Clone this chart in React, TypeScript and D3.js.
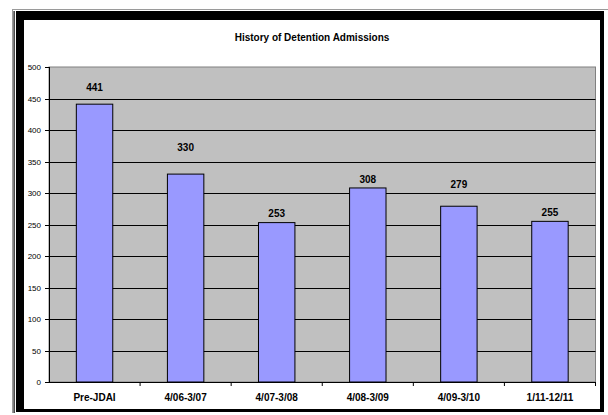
import React from "react";
import * as d3 from "d3";

// Detention admissions by reporting period
const periods = ["Pre-JDAI", "4/06-3/07", "4/07-3/08", "4/08-3/09", "4/09-3/10", "1/11-12/11"];
const admissions = [441, 330, 253, 308, 279, 255];
const yTicks = [0, 50, 100, 150, 200, 250, 300, 350, 400, 450, 500];

// How far each value label sits above its bar, in px
const labelLift = [16.5, 26.5, 9, 8, 22, 9];

const W = 608;
const H = 415;
const plot = { left: 49, right: 595.5, top: 67, bottom: 382 };
const font = "Liberation Sans, Arial, sans-serif";

export default function App() {
  const x = d3
    .scaleBand<string>()
    .domain(periods)
    .range([plot.left, plot.right])
    .paddingInner(0.6)
    .paddingOuter(0.3);
  const band = d3.scaleBand<string>().domain(periods).range([plot.left, plot.right]);
  const y = d3.scaleLinear().domain([0, 500]).range([plot.bottom, plot.top]);

  return (
    <svg
      width={W}
      height={H}
      style={{ position: "absolute", left: 0, top: 0, display: "block" }}
      fontFamily={font}
    >
      <rect x={0} y={0} width={W} height={H} fill="#fff" />
      {/* outer frame */}
      <line x1={12} y1={9.5} x2={W} y2={9.5} stroke="#9a9a9a" strokeWidth={1} />
      <line x1={12.5} y1={9} x2={12.5} y2={413} stroke="#9a9a9a" strokeWidth={1} />
      <rect x={13.5} y={11} width={1.2} height={402} fill="#000" />
      <rect x={16} y={11} width={588} height={401} fill="#000" />
      <rect x={24} y={20} width={576} height={389} fill="#fff" />

      <text
        x={312}
        y={40.5}
        textAnchor="middle"
        fontSize={10}
        fontWeight="bold"
        fill="#000"
      >
        History of Detention Admissions
      </text>

      {/* plot area */}
      <rect
        x={plot.left}
        y={plot.top}
        width={plot.right - plot.left}
        height={plot.bottom - plot.top}
        fill="#c0c0c0"
        stroke="#808080"
        strokeWidth={1}
      />
      {yTicks
        .filter((t) => t > 0 && t < 500)
        .map((t) => (
          <line
            key={t}
            x1={plot.left}
            x2={plot.right}
            y1={Math.round(y(t)) + 0.5}
            y2={Math.round(y(t)) + 0.5}
            stroke="#000"
            strokeWidth={1}
          />
        ))}

      {/* bars */}
      {periods.map((p, i) => (
        <rect
          key={p}
          x={x(p)!}
          y={y(admissions[i])}
          width={x.bandwidth()}
          height={y(0) - y(admissions[i])}
          fill="#9999ff"
          stroke="#000"
          strokeWidth={1}
        />
      ))}

      {/* value labels */}
      {periods.map((p, i) => (
        <text
          key={p}
          x={x(p)! + x.bandwidth() / 2}
          y={y(admissions[i]) - labelLift[i] + 3.5}
          textAnchor="middle"
          fontSize={10}
          fontWeight="bold"
          fill="#000"
        >
          {admissions[i]}
        </text>
      ))}

      {/* y axis */}
      <line x1={plot.left + 0.5} x2={plot.left + 0.5} y1={plot.top} y2={plot.bottom} stroke="#000" />
      {yTicks.map((t) => (
        <g key={t}>
          <line
            x1={plot.left - 4}
            x2={plot.left}
            y1={Math.round(y(t)) + 0.5}
            y2={Math.round(y(t)) + 0.5}
            stroke="#000"
          />
          <text x={41} y={y(t) + 3} textAnchor="end" fontSize={8} fill="#000">
            {t}
          </text>
        </g>
      ))}

      {/* x axis */}
      <line x1={plot.left} x2={plot.right} y1={plot.bottom + 0.5} y2={plot.bottom + 0.5} stroke="#000" />
      {periods.map((p) => (
        <line
          key={p}
          x1={band(p)! + band.bandwidth()}
          x2={band(p)! + band.bandwidth()}
          y1={plot.bottom}
          y2={plot.bottom + 4}
          stroke="#000"
        />
      ))}
      {periods.map((p) => (
        <text
          key={p}
          x={band(p)! + band.bandwidth() / 2}
          y={400.5}
          textAnchor="middle"
          fontSize={10}
          fontWeight="bold"
          fill="#000"
        >
          {p}
        </text>
      ))}
    </svg>
  );
}
